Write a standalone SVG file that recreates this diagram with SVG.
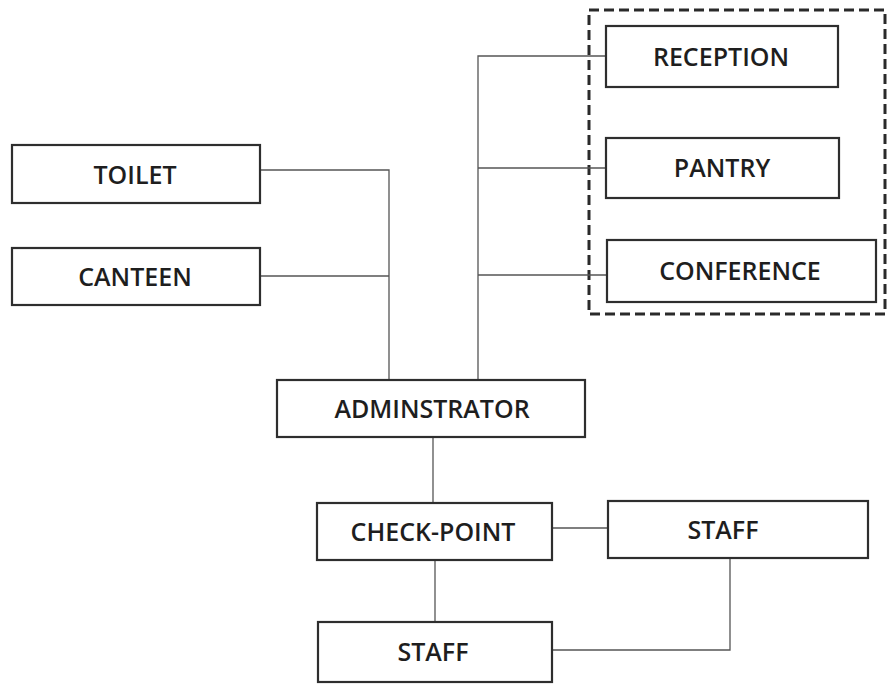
<svg xmlns="http://www.w3.org/2000/svg" width="889" height="685" viewBox="0 0 889 685">
  <style>
    .box { fill: #ffffff; stroke: #2e2e2e; stroke-width: 2.2; }
    .lbl { font-family: "Open Sans", "Liberation Sans", sans-serif; font-size: 25px; font-weight: 600; fill: #1e1e1e; text-anchor: middle; }
    .wire { fill: none; stroke: #555555; stroke-width: 1.3; }
    .zone { fill: none; stroke: #2a2a2a; stroke-width: 3; stroke-dasharray: 10 5; }
  </style>
  <rect width="889" height="685" fill="#ffffff"/>

  <!-- dashed zone around front-office rooms -->
  <rect class="zone" x="589" y="10" width="296" height="304"/>

  <!-- connectors -->
  <g id="connectors">
    <polyline class="wire" points="260,170 389,170 389,380"/>
    <line class="wire" x1="260" y1="276" x2="389" y2="276"/>
    <polyline class="wire" points="606,56 478,56 478,380"/>
    <line class="wire" x1="478" y1="168" x2="606" y2="168"/>
    <line class="wire" x1="478" y1="275" x2="607" y2="275"/>
    <line class="wire" x1="433" y1="437" x2="433" y2="503"/>
    <line class="wire" x1="552" y1="528" x2="608" y2="528"/>
    <line class="wire" x1="435" y1="560" x2="435" y2="622"/>
    <polyline class="wire" points="552,650 730,650 730,558"/>
  </g>

  <g id="reception">
    <rect class="box" x="606" y="26" width="232" height="61"/>
    <text class="lbl" x="721" y="66">RECEPTION</text>
  </g>
  <g id="pantry">
    <rect class="box" x="606" y="138" width="233" height="60"/>
    <text class="lbl" x="722" y="177">PANTRY</text>
  </g>
  <g id="conference">
    <rect class="box" x="607" y="240" width="269" height="62"/>
    <text class="lbl" x="740" y="280">CONFERENCE</text>
  </g>
  <g id="toilet">
    <rect class="box" x="12" y="145" width="248" height="58"/>
    <text class="lbl" x="135" y="184">TOILET</text>
  </g>
  <g id="canteen">
    <rect class="box" x="12" y="248" width="248" height="57"/>
    <text class="lbl" x="135" y="286">CANTEEN</text>
  </g>
  <g id="administrator">
    <rect class="box" x="277" y="380" width="308" height="57"/>
    <text class="lbl" x="432" y="418">ADMINSTRATOR</text>
  </g>
  <g id="check-point">
    <rect class="box" x="317" y="503" width="235" height="57"/>
    <text class="lbl" x="433" y="541">CHECK-POINT</text>
  </g>
  <g id="staff-right">
    <rect class="box" x="608" y="501" width="260" height="57"/>
    <text class="lbl" x="723" y="539">STAFF</text>
  </g>
  <g id="staff-bottom">
    <rect class="box" x="318" y="622" width="234" height="60"/>
    <text class="lbl" x="433" y="661">STAFF</text>
  </g>
</svg>
